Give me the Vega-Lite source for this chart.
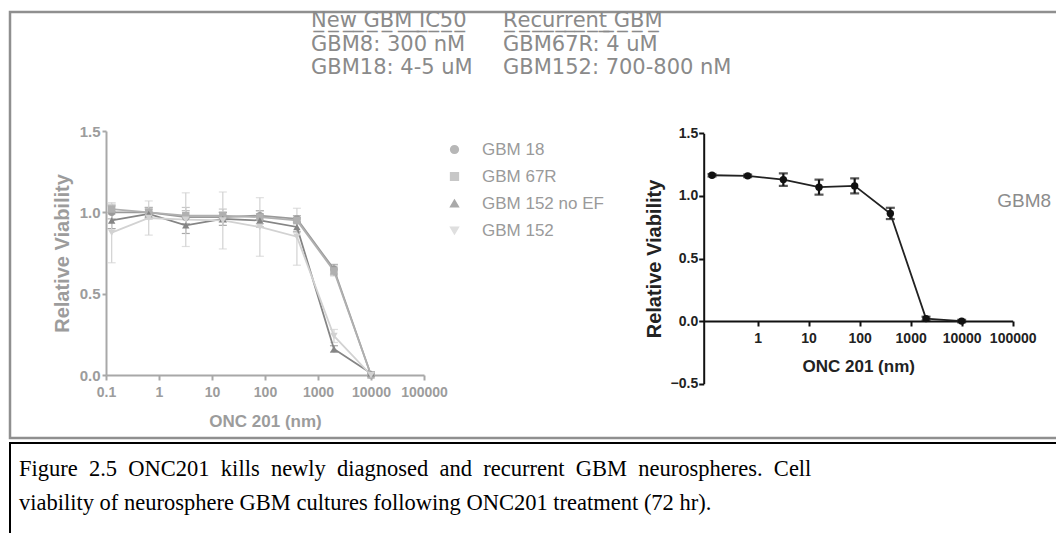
{
  "$schema": "https://vega.github.io/schema/vega-lite/v6.json",
  "background": "white",
  "padding": {"left": 8, "top": 8, "right": 0, "bottom": 0},
  "spacing": 2,
  "config": {
    "view": {"stroke": null},
    "axis": {"grid": false, "labelFont": "Liberation Sans", "titleFont": "Liberation Sans", "labelFontWeight": "bold", "titleFontWeight": "bold", "labelFlush": false, "labelOverlap": false}
  },
  "datasets": {
    "left": [
      {"series": "GBM 18", "conc": 0.128, "viability": 1.0, "lo": 0.96, "hi": 1.04},
      {"series": "GBM 18", "conc": 0.64, "viability": 1.0, "lo": 0.97, "hi": 1.03},
      {"series": "GBM 18", "conc": 3.2, "viability": 0.97, "lo": 0.93, "hi": 1.01},
      {"series": "GBM 18", "conc": 16, "viability": 0.97, "lo": 0.94, "hi": 1.0},
      {"series": "GBM 18", "conc": 80, "viability": 0.98, "lo": 0.95, "hi": 1.01},
      {"series": "GBM 18", "conc": 400, "viability": 0.96, "lo": 0.94, "hi": 0.98},
      {"series": "GBM 18", "conc": 2000, "viability": 0.65, "lo": 0.62, "hi": 0.68},
      {"series": "GBM 18", "conc": 10000, "viability": 0.0, "lo": 0.0, "hi": 0.01},
      {"series": "GBM 67R", "conc": 0.128, "viability": 1.02, "lo": 0.99, "hi": 1.05},
      {"series": "GBM 67R", "conc": 0.64, "viability": 1.0, "lo": 0.97, "hi": 1.03},
      {"series": "GBM 67R", "conc": 3.2, "viability": 0.98, "lo": 0.93, "hi": 1.03},
      {"series": "GBM 67R", "conc": 16, "viability": 0.98, "lo": 0.94, "hi": 1.02},
      {"series": "GBM 67R", "conc": 80, "viability": 0.97, "lo": 0.93, "hi": 1.01},
      {"series": "GBM 67R", "conc": 400, "viability": 0.95, "lo": 0.93, "hi": 0.97},
      {"series": "GBM 67R", "conc": 2000, "viability": 0.64, "lo": 0.61, "hi": 0.67},
      {"series": "GBM 67R", "conc": 10000, "viability": 0.0, "lo": 0.0, "hi": 0.01},
      {"series": "GBM 152 no EF", "conc": 0.128, "viability": 0.95, "lo": 0.9, "hi": 1.0},
      {"series": "GBM 152 no EF", "conc": 0.64, "viability": 0.99, "lo": 0.96, "hi": 1.02},
      {"series": "GBM 152 no EF", "conc": 3.2, "viability": 0.92, "lo": 0.87, "hi": 0.97},
      {"series": "GBM 152 no EF", "conc": 16, "viability": 0.96, "lo": 0.92, "hi": 1.0},
      {"series": "GBM 152 no EF", "conc": 80, "viability": 0.95, "lo": 0.91, "hi": 0.99},
      {"series": "GBM 152 no EF", "conc": 400, "viability": 0.91, "lo": 0.88, "hi": 0.94},
      {"series": "GBM 152 no EF", "conc": 2000, "viability": 0.16, "lo": 0.14, "hi": 0.18},
      {"series": "GBM 152 no EF", "conc": 10000, "viability": 0.01, "lo": 0.0, "hi": 0.02},
      {"series": "GBM 152", "conc": 0.128, "viability": 0.875, "lo": 0.69, "hi": 1.06},
      {"series": "GBM 152", "conc": 0.64, "viability": 0.965, "lo": 0.86, "hi": 1.07},
      {"series": "GBM 152", "conc": 3.2, "viability": 0.955, "lo": 0.79, "hi": 1.12},
      {"series": "GBM 152", "conc": 16, "viability": 0.95, "lo": 0.775, "hi": 1.125},
      {"series": "GBM 152", "conc": 80, "viability": 0.91, "lo": 0.73, "hi": 1.09},
      {"series": "GBM 152", "conc": 400, "viability": 0.85, "lo": 0.675, "hi": 1.025},
      {"series": "GBM 152", "conc": 2000, "viability": 0.24, "lo": 0.2, "hi": 0.28},
      {"series": "GBM 152", "conc": 10000, "viability": 0.0, "lo": 0.0, "hi": 0.01}
    ],
    "right": [
      {"series": "GBM8", "conc": 0.128, "viability": 1.165, "lo": 1.155, "hi": 1.175},
      {"series": "GBM8", "conc": 0.64, "viability": 1.16, "lo": 1.15, "hi": 1.17},
      {"series": "GBM8", "conc": 3.2, "viability": 1.13, "lo": 1.08, "hi": 1.18},
      {"series": "GBM8", "conc": 16, "viability": 1.07, "lo": 1.01, "hi": 1.13},
      {"series": "GBM8", "conc": 80, "viability": 1.08, "lo": 1.02, "hi": 1.14},
      {"series": "GBM8", "conc": 400, "viability": 0.86, "lo": 0.815, "hi": 0.905},
      {"series": "GBM8", "conc": 2000, "viability": 0.02, "lo": 0.005, "hi": 0.035},
      {"series": "GBM8", "conc": 10000, "viability": 0.0, "lo": -0.01, "hi": 0.01}
    ],
    "header": [
      {"group": "New", "line": 1, "text": "N\u0332e\u0332w\u0332 \u0332G\u0332B\u0332M\u0332 \u0332I\u0332C\u03325\u03320\u0332"},
      {"group": "New", "line": 2, "text": "GBM8: 300 nM"},
      {"group": "New", "line": 3, "text": "GBM18: 4-5 uM"},
      {"group": "Recurrent", "line": 1, "text": "R\u0332e\u0332c\u0332u\u0332r\u0332r\u0332e\u0332n\u0332t\u0332 \u0332G\u0332B\u0332M\u0332"},
      {"group": "Recurrent", "line": 2, "text": "GBM67R: 4 uM"},
      {"group": "Recurrent", "line": 3, "text": "GBM152: 700-800 nM"}
    ],
    "caption": [
      {"line": 1, "text": "Figure\u20022.5\u2002ONC201\u2002kills\u2002newly\u2002diagnosed\u2002and\u2002recurrent\u2002GBM\u2002neurospheres.\u2002Cell"},
      {"line": 2, "text": "viability of neurosphere GBM cultures following ONC201 treatment (72 hr)."}
    ]
  },
  "vconcat": [
    {
      "width": 1046,
      "height": 426,
      "view": {"stroke": "#8f8f8f", "strokeWidth": 2.5, "strokeDash": [1046, 426, 1472], "fill": "white"},
      "resolve": {"scale": {"x": "independent", "y": "independent"}, "axis": {"x": "independent", "y": "independent"}},
      "layer": [
        {
          "data": {"name": "header"},
          "mark": {"type": "text", "align": "left", "baseline": "middle", "font": "DejaVu Sans", "fontSize": 21, "color": "#8a8a8a"},
          "encoding": {
            "x": {"field": "group", "type": "nominal", "sort": ["New", "Recurrent"], "scale": {"type": "point", "range": [301, 493], "padding": 0}, "axis": null},
            "y": {"field": "line", "type": "ordinal", "scale": {"type": "point", "range": [9, 56], "padding": 0}, "axis": null},
            "text": {"field": "text", "type": "nominal"}
          }
        },
        {
          "data": {"name": "left"},
          "layer": [
            {
              "mark": {"type": "errorbar", "ticks": true, "size": 8, "thickness": 1.2},
              "encoding": {
                "x": {"field": "conc", "type": "quantitative", "scale": {"type": "log", "domain": [0.1, 100000], "range": [96, 414], "nice": false},
                  "axis": {"orient": "bottom", "offset": -63, "values": [0.1, 1, 10, 100, 1000, 10000, 100000], "format": "~g", "title": "ONC 201 (nm)",
                    "domainColor": "#a8a8a8", "domainWidth": 2, "tickColor": "#a8a8a8", "tickWidth": 2, "tickSize": 5,
                    "labelColor": "#9c9c9c", "labelFontSize": 14, "labelPadding": 5, "titleColor": "#9c9c9c", "titleFontSize": 17, "titlePadding": 14}},
                "y": {"field": "lo", "type": "quantitative", "scale": {"domain": [0, 1.5], "range": [363, 119], "nice": false, "zero": false},
                  "axis": {"orient": "left", "offset": -96, "values": [0, 0.5, 1, 1.5], "format": ".1f", "title": "Relative Viability",
                    "domainColor": "#a8a8a8", "domainWidth": 2, "tickColor": "#a8a8a8", "tickWidth": 2, "tickSize": 4,
                    "labelColor": "#9c9c9c", "labelFontSize": 15, "labelPadding": 2, "titleColor": "#9c9c9c", "titleFontSize": 20, "titlePadding": 7}},
                "y2": {"field": "hi"},
                "color": {"field": "series", "type": "nominal",
                  "scale": {"domain": ["GBM 18", "GBM 67R", "GBM 152 no EF", "GBM 152"], "range": ["#9a9a9a", "#b0b0b0", "#858585", "#d2d2d2"]}}
              }
            },
            {
              "mark": {"type": "line", "strokeWidth": 1.8},
              "encoding": {
                "x": {"field": "conc", "type": "quantitative", "title": "ONC 201 (nm)"},
                "y": {"field": "viability", "type": "quantitative", "title": "Relative Viability"},
                "color": {"field": "series", "type": "nominal"}
              }
            },
            {
              "mark": {"type": "point", "filled": true, "size": 55, "opacity": 1},
              "encoding": {
                "x": {"field": "conc", "type": "quantitative", "title": "ONC 201 (nm)"},
                "y": {"field": "viability", "type": "quantitative", "title": "Relative Viability"},
                "color": {"field": "series", "type": "nominal",
                  "legend": {"orient": "none", "legendX": 436, "legendY": 129, "title": null, "labelFont": "Liberation Sans", "labelFontSize": 17, "labelColor": "#9a9a9a", "labelOffset": 19, "rowPadding": 9, "symbolSize": 60}},
                "shape": {"field": "series", "type": "nominal",
                  "scale": {"domain": ["GBM 18", "GBM 67R", "GBM 152 no EF", "GBM 152"], "range": ["circle", "square", "triangle-up", "triangle-down"]},
                  "legend": {"orient": "none", "legendX": 436, "legendY": 129, "title": null, "labelFont": "Liberation Sans", "labelFontSize": 17, "labelColor": "#9a9a9a", "labelOffset": 19, "rowPadding": 9, "symbolSize": 60}}
              }
            }
          ]
        },
        {
          "data": {"name": "right"},
          "layer": [
            {
              "mark": {"type": "errorbar", "ticks": true, "size": 9, "thickness": 2.2, "color": "#111111"},
              "encoding": {
                "x": {"field": "conc", "type": "quantitative", "scale": {"type": "log", "domain": [0.088, 100000], "range": [693.7, 1002.7], "nice": false},
                  "axis": {"orient": "bottom", "offset": -117, "values": [1, 10, 100, 1000, 10000, 100000], "format": "~g", "title": "ONC 201 (nm)",
                    "domainColor": "#111111", "domainWidth": 2, "tickColor": "#111111", "tickWidth": 2, "tickSize": 5,
                    "labelColor": "#222222", "labelFontSize": 14, "labelPadding": 5, "titleColor": "#222222", "titleFontSize": 17, "titlePadding": 13}},
                "y": {"field": "lo", "type": "quantitative", "scale": {"domain": [-0.5, 1.5], "range": [371.7, 121.3], "nice": false, "zero": false},
                  "axis": {"orient": "left", "offset": -693.7, "values": [-0.5, 0, 0.5, 1, 1.5], "format": ".1f", "title": "Relative Viability",
                    "domainColor": "#111111", "domainWidth": 2, "tickColor": "#111111", "tickWidth": 2, "tickSize": 5,
                    "labelColor": "#222222", "labelFontSize": 14, "labelPadding": 1, "titleColor": "#222222", "titleFontSize": 20, "titlePadding": 6}},
                "y2": {"field": "hi"}
              }
            },
            {
              "mark": {"type": "line", "strokeWidth": 1.8, "color": "#222222"},
              "encoding": {
                "x": {"field": "conc", "type": "quantitative", "title": "ONC 201 (nm)"},
                "y": {"field": "viability", "type": "quantitative", "title": "Relative Viability"}
              }
            },
            {
              "mark": {"type": "point", "filled": true, "size": 55, "color": "#111111", "opacity": 1},
              "encoding": {
                "x": {"field": "conc", "type": "quantitative", "title": "ONC 201 (nm)"},
                "y": {"field": "viability", "type": "quantitative", "title": "Relative Viability"}
              }
            },
            {
              "data": {"values": [{"label": "GBM8"}]},
              "mark": {"type": "text", "align": "left", "baseline": "middle", "font": "Liberation Sans", "fontSize": 19, "color": "#8c8c8c"},
              "encoding": {
                "x": {"datum": 50000, "type": "quantitative", "title": "ONC 201 (nm)"},
                "y": {"datum": 0.96, "type": "quantitative", "title": "Relative Viability"},
                "text": {"field": "label", "type": "nominal"}
              }
            }
          ]
        }
      ]
    },
    {
      "width": 1046,
      "height": 90,
      "view": {"stroke": "#000000", "strokeWidth": 2, "strokeDash": [1046, 1136, 90], "fill": "white"},
      "data": {"name": "caption"},
      "mark": {"type": "text", "align": "left", "baseline": "middle", "font": "Liberation Serif", "fontSize": 22.5, "color": "#000000"},
      "encoding": {
        "x": {"datum": 0, "type": "quantitative", "scale": {"domain": [0, 1], "range": [9, 1000]}, "axis": null},
        "y": {"field": "line", "type": "ordinal", "scale": {"type": "point", "range": [26, 60], "padding": 0}, "axis": null},
        "text": {"field": "text", "type": "nominal"}
      }
    }
  ]
}
